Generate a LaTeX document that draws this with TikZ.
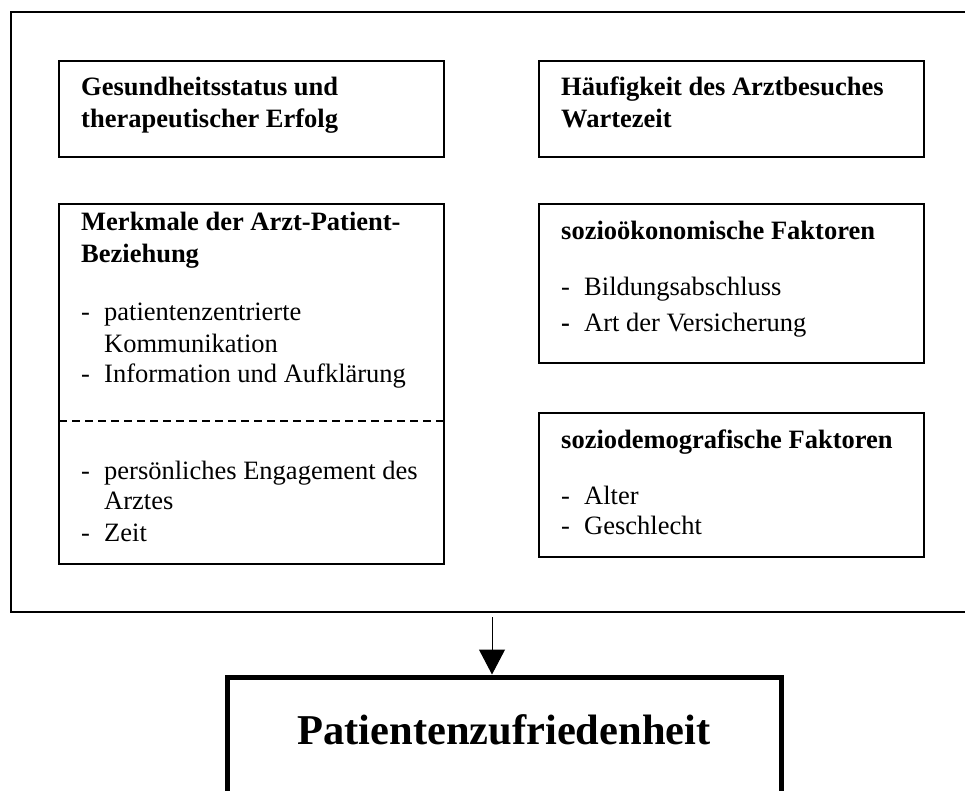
\documentclass[tikz,border=0pt]{standalone}
\usepackage{fontspec}
\setmainfont{Liberation Serif}
\usetikzlibrary{arrows.meta}
\begin{document}
\begin{tikzpicture}[x=1pt,y=-1pt,
  box/.style={draw,line width=1.5pt,inner sep=0pt,outer sep=0pt,anchor=north west},
  ttl/.style={anchor=base west,inner sep=0pt,font=\fontsize{26.5}{31}\selectfont\bfseries},
  txt/.style={anchor=base west,inner sep=0pt,font=\fontsize{26.5}{31}\selectfont},
]
\useasboundingbox (0,0) rectangle (965,791);
\clip (0,0) rectangle (965,791);
\fill[white] (0,0) rectangle (965,791);
% outer frame
\node[box,minimum width=970pt,minimum height=600pt] (outer) at (11,12) {};
% box 1
\node[box,minimum width=385pt,minimum height=96pt] (b1) at (59,61) {};
\node[ttl] (b1t1) at (81,96) {Gesundheitsstatus und};
\node[ttl] (b1t2) at (81,128) {therapeutischer Erfolg};
% box 2
\node[box,minimum width=385pt,minimum height=96pt] (b2) at (539,61) {};
\node[ttl] (b2t1) at (561,96) {Häufigkeit des Arztbesuches};
\node[ttl] (b2t2) at (561,128) {Wartezeit};
% box 3
\node[box,minimum width=385pt,minimum height=360pt] (b3) at (59,204) {};
\node[ttl] (b3t1) at (81,231) {Merkmale der Arzt-Patient-};
\node[ttl] (b3t2) at (81,262) {Beziehung};
\node[txt] (b3d1) at (81,320) {-};
\node[txt] (b3l1) at (104,320) {patientenzentrierte};
\node[txt] (b3l2) at (104,352) {Kommunikation};
\node[txt] (b3d2) at (81,382) {-};
\node[txt] (b3l3) at (104,382) {Information und Aufklärung};
\draw[line width=1.5pt,dash pattern=on 8pt off 5pt] (b3.west |- 0,421) -- (b3.east |- 0,421);
\node[txt] (b3d3) at (81,479) {-};
\node[txt] (b3l4) at (104,479) {persönliches Engagement des};
\node[txt] (b3l5) at (104,509) {Arztes};
\node[txt] (b3d4) at (81,541) {-};
\node[txt] (b3l6) at (104,541) {Zeit};
% box 4
\node[box,minimum width=385pt,minimum height=159pt] (b4) at (539,204) {};
\node[ttl] (b4t1) at (561,240) {sozioökonomische Faktoren};
\node[txt] (b4d1) at (561,295) {-};
\node[txt] (b4l1) at (584,295) {Bildungsabschluss};
\node[txt] (b4d2) at (561,331) {\bfseries -};
\node[txt] (b4l2) at (584,331) {Art der Versicherung};
% box 5
\node[box,minimum width=385pt,minimum height=144pt] (b5) at (539,413) {};
\node[ttl] (b5t1) at (561,448) {soziodemografische Faktoren};
\node[txt] (b5d1) at (561,504) {-};
\node[txt] (b5l1) at (584,504) {Alter};
\node[txt] (b5d2) at (561,534) {-};
\node[txt] (b5l2) at (584,534) {Geschlecht};
% result box
\node[draw,line width=5pt,inner sep=0pt,outer sep=0pt,anchor=north west,minimum width=554pt,minimum height=200pt] (res) at (227,677) {};
\node[anchor=base,inner sep=0pt,font=\fontsize{42.5}{50}\selectfont\bfseries] (rest) at (504,744) {Patientenzufriedenheit};
% arrow
\coordinate (astart) at (492,617);
\draw[line width=1pt,-{Triangle[width=26pt,length=25pt]},shorten >=2.5pt] (astart) -- (astart |- res.north);
\end{tikzpicture}
\end{document}
